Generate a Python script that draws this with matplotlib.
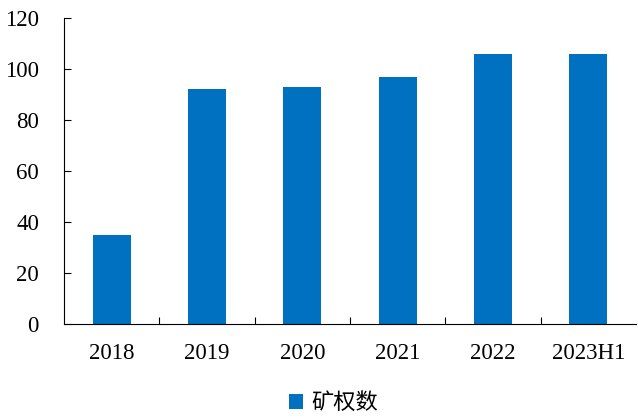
"""Mining rights count bar chart, 2018-2023H1."""
import matplotlib

matplotlib.use("Agg")

import matplotlib.pyplot as plt
from matplotlib.ticker import FixedLocator

years = ["2018", "2019", "2020", "2021", "2022", "2023H1"]
rights = [35, 92, 93, 97, 106, 106]
series_label = "矿权数"

BAR_COLOR = "#0070C0"

plt.rcParams["font.family"] = ["Liberation Serif", "Noto Sans CJK SC"]

fig = plt.figure(figsize=(6.38, 4.17), dpi=100)
ax = fig.add_axes([0.1003, 0.223, 0.8967, 0.734])

x = list(range(len(years)))
ax.bar(x, rights, width=0.4, color=BAR_COLOR, label=series_label)

ax.set_xlim(-0.5, len(years) - 0.5)
ax.set_ylim(0, 120)
ax.set_yticks(range(0, 121, 20))
ax.set_xticks(x)
ax.set_xticklabels(years)
ax.xaxis.set_minor_locator(FixedLocator([i + 0.5 for i in range(len(years) - 1)]))

ax.tick_params(axis="x", which="major", length=0, pad=14, labelsize=16.5)
ax.tick_params(axis="x", which="minor", direction="in", length=5, width=0.8)
ax.tick_params(axis="y", direction="in", length=5, width=0.8, pad=18, labelsize=16.5)

for side in ("top", "right"):
    ax.spines[side].set_visible(False)
for side in ("left", "bottom"):
    ax.spines[side].set_linewidth(0.8)

ax.legend(
    loc="center",
    bbox_to_anchor=(0.523, 0.034),
    bbox_transform=fig.transFigure,
    frameon=False,
    handlelength=0.6,
    handleheight=0.6,
    handletextpad=0.4,
    prop={"family": ["Noto Sans CJK SC"], "size": 16},
)

fig.savefig("out.png", dpi=100)
